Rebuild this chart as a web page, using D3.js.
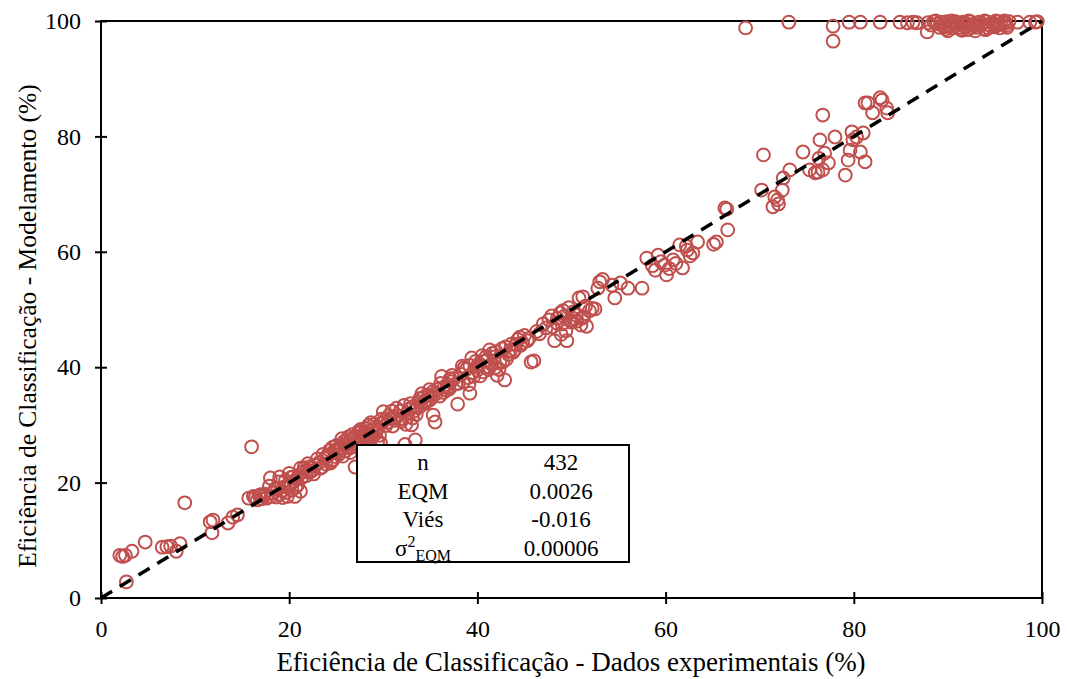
<!DOCTYPE html>
<html>
<head>
<meta charset="utf-8">
<script src="https://cdn.jsdelivr.net/npm/d3@7"></script>
<style>
  body { margin: 0; background: #fff; }
  svg text { font-family: "Liberation Serif", "Times New Roman", serif; fill: #000; }
</style>
</head>
<body>
<div id="chart"></div>
<script>
// eficiencia experimental (x) vs modelada (y), em %
var faixaBaixa = [
  [2.7,2.8],[2.0,7.4],[2.3,7.2],[2.6,7.4],[3.3,8.1],[4.7,9.7],[6.5,8.8],[7.0,8.9],[7.4,9.0],
  [8.0,8.1],[8.4,9.4],[8.9,16.5],[11.6,13.2],[11.9,13.5],[11.8,11.3],[13.5,13.0],[14.0,14.0],
  [14.5,14.4],[16.0,26.2],[15.7,17.3],[16.2,17.6],[16.4,17.4],[16.8,17.8],[17.1,17.2],[17.4,18.0],
  [17.9,19.4],[18.3,18.2],[18.6,17.5],[19.0,18.0],[19.2,18.6],[19.5,19.3],[19.8,17.6],[20.1,19.9],
  [20.3,18.7],[20.5,20.2],[18.0,20.8],[19.0,21.0],[20.0,21.6],[20.8,20.6],[21.0,21.3],[21.2,22.5],
  [21.5,21.9],[21.9,22.1],[22.3,22.8],[22.6,21.5],[20.6,17.6],[21.2,18.5],[17.6,17.3],[18.8,19.0],
  [19.6,20.4],[20.9,19.6],[16.6,17.0],[22.0,23.3],[17.0,17.9],[18.5,18.9],[19.3,17.4],[20.4,21.0],
  [21.6,22.6],[22.4,22.0],[18.1,17.6],[19.9,19.1],[21.3,20.8],[18.9,20.1],[20.2,20.9],[21.8,21.2],
  [17.3,17.7],[19.7,18.3],[22.1,21.8],[20.7,19.2]
];

var faixaMedia = [
  [22.8,23.0],[23.2,23.5],[23.5,22.7],[23.8,24.2],[24.2,24.8],[24.5,23.8],[24.8,25.5],[25.0,26.4],
  [25.3,24.9],[25.5,26.0],[25.8,27.1],[26.0,25.5],[26.2,26.8],[26.5,27.5],[26.8,26.2],[27.0,28.0],
  [27.3,27.3],[27.5,28.6],[27.8,27.0],[28.0,28.7],[28.2,29.4],[28.5,28.1],[28.8,29.0],[29.0,30.1],
  [29.2,28.5],[29.5,29.6],[29.8,31.0],[30.0,32.3],[30.3,29.9],[30.5,30.5],[27.0,22.7],[25.4,26.0],
  [24.0,24.6],[26.5,25.2],[28.0,27.8],[28.6,26.5],[29.4,27.0],[29.7,26.9],[25.1,25.3],[26.3,27.9],
  [27.6,29.2],[28.9,28.0],[29.9,30.4],[24.6,26.1],[23.9,23.2],[23.0,24.1],[24.3,25.6],[25.7,24.6],
  [26.7,28.3],[27.2,26.6],[28.4,29.9],[29.3,29.2],[25.9,26.5],[27.9,28.1],[26.1,27.4],[24.9,24.5],
  [23.3,22.5],[24.7,24.0],[25.6,27.6],[26.4,26.0],[27.4,28.9],[28.1,28.3],[28.7,30.4],[29.6,28.2],
  [24.4,23.4],[25.2,25.9],[26.9,27.7],[27.7,26.4],[28.3,27.2],[29.1,29.6],[23.6,24.9],[26.6,26.7],
  [30.8,31.2],[31.0,29.8],[31.2,30.8],[31.5,31.6],[31.8,32.4],[32.0,31.0],[32.3,26.6],[32.5,32.0],
  [32.8,32.8],[33.0,30.0],[33.2,33.2],[33.4,27.4],[33.5,31.8],[33.8,34.0],[34.0,33.3],[34.3,34.8],
  [34.5,33.8],[34.8,35.2],[35.0,34.4],[35.3,35.8],[35.5,30.5],[35.3,31.7],[35.8,36.2],[36.0,35.0],
  [36.2,38.4],[36.5,36.6],[36.8,37.0],[37.0,36.2],[37.2,37.5],[37.5,38.0],[37.9,33.6],[39.2,35.5],
  [31.4,32.9],[32.6,31.4],[33.9,34.6],[34.7,34.2],[36.4,35.6],[37.7,37.1],[30.6,31.6],[31.9,30.6],
  [32.2,33.4],[33.6,33.0],[34.1,35.4],[35.1,35.0],[36.7,36.0],[37.3,38.6],[30.2,30.9],[31.1,31.3],
  [30.9,32.4],[31.7,31.0],[32.9,33.7],[33.3,32.4],[34.4,34.1],[35.6,35.4],[36.1,37.2],[36.9,36.5],
  [37.1,38.0],[34.9,36.1],[33.1,31.2],[32.4,30.1],
  [38.2,38.8],[38.5,37.5],[38.8,39.6],[39.0,38.2],[39.2,40.3],[39.5,39.0],[39.8,41.0],[40.0,39.5],
  [40.2,40.6],[40.5,42.0],[40.8,40.0],[41.0,41.2],[41.3,43.0],[41.5,40.5],[41.8,41.8],[42.0,42.7],
  [42.1,38.6],[42.4,41.0],[42.7,40.9],[42.9,37.8],[43.0,43.5],[43.3,42.2],[43.6,44.0],[44.0,43.1],
  [44.3,44.8],[44.6,43.8],[45.0,45.5],[45.3,44.6],[45.7,40.9],[46.0,41.1],[46.3,46.2],[46.6,45.8],
  [47.0,47.5],[39.6,38.4],[40.6,39.2],[41.9,39.9],[43.8,42.6],[44.8,44.2],[38.6,39.9],[40.9,41.8],
  [39.4,41.6],[40.3,38.5],[41.6,42.4],[42.3,39.6],[43.1,41.4],[38.0,37.2],[39.1,37.0],[44.1,44.0],
  [38.4,40.2],[39.9,40.1],[40.7,41.0],[41.2,39.6],[42.6,43.2],[43.5,42.9],[44.5,45.2],[45.5,45.0]
];

var faixaAlta = [
  [47.3,46.8],[47.6,48.2],[48.0,47.0],[48.2,44.6],[48.5,48.5],[48.8,49.4],[49.0,47.5],[49.2,48.8],
  [49.5,44.6],[49.7,50.3],[50.0,47.8],[50.3,48.4],[50.5,49.0],[50.8,52.0],[51.0,47.3],[51.3,48.7],
  [51.6,47.1],[51.9,49.8],[52.2,50.2],[51.1,48.5],[51.2,52.2],[49.4,46.3],[48.9,45.7],[47.9,48.9],
  [50.2,49.6],[52.5,50.1],[49.9,48.1],[48.4,47.7],[49.1,49.8],[50.6,48.0],[51.5,50.6],
  [53.0,54.8],[52.8,53.7],[54.3,54.2],[55.2,54.6],[54.6,52.0],[56.0,53.7],[57.5,53.7],[53.3,55.2],
  [58.0,58.9],[59.2,59.4],[58.9,56.8],[59.9,57.7],[60.1,56.0],[60.8,58.6],[61.8,57.2],[62.3,60.3],
  [62.9,59.8],[63.4,61.7],[61.5,61.2],[62.2,61.0],[65.1,61.3],[65.4,61.7],[66.5,67.4],[66.6,63.8],
  [59.5,58.3],[60.4,57.1],[61.1,58.0],[62.6,59.3],[58.6,57.6],
  [66.3,67.6],[70.4,76.8],[70.2,70.7],[71.6,69.5],[71.9,69.0],[71.4,67.8],[72.4,70.7],[72.5,72.8],
  [73.2,74.2],[74.6,77.3],[75.3,74.2],[75.9,73.7],[76.2,73.8],[76.7,74.2],[76.9,77.1],[77.3,75.4],
  [76.4,79.4],[76.7,83.7],[78.0,79.9],[79.1,73.3],[79.4,75.9],[79.6,77.6],[79.8,80.8],[79.9,79.4],
  [80.3,79.9],[80.7,77.3],[81.0,80.6],[81.2,75.6],[81.2,85.8],[81.5,85.8],[82.0,84.1],[82.8,86.7],
  [83.0,86.3],[83.6,84.1],[83.5,84.9],[72.0,68.3],[76.3,76.2]
];

var faixaTopo = [
  [68.5,98.8],[73.1,99.8],[77.8,99.1],[77.8,96.5],[79.5,99.8],[80.7,99.8],[82.8,99.8],[84.9,99.8],
  [85.7,99.7],[86.3,99.8],[86.7,99.7],[87.9,99.7],[87.8,98.1],[88.5,99.9],[88.9,99.5],[89.3,99.8],
  [89.6,99.0],[89.9,99.9],[90.2,99.4],[90.5,98.8],[90.8,99.9],[91.0,99.3],[91.3,98.6],[91.6,99.8],
  [91.9,99.1],[92.1,98.5],[92.4,99.9],[92.7,99.4],[93.0,98.9],[93.3,99.8],[93.5,99.2],[93.8,98.7],
  [94.1,99.9],[94.4,99.3],[94.7,99.7],[95.0,99.0],[95.3,99.9],[95.6,99.4],[95.9,99.8],[96.2,99.2],
  [96.5,99.9],[90.0,98.3],[91.5,98.4],[92.9,98.3],[94.0,98.5],[89.1,98.9],[95.5,98.8],[97.4,99.8],
  [98.7,99.8],[99.3,99.8],[99.5,99.9],[88.7,100],[90.4,100],[92.2,100],[93.9,100],[95.1,100],[96.0,100],
  [89.4,99.3],[90.7,99.6],[91.8,99.6],[92.5,98.9],[93.6,99.6],[94.9,99.4],[96.3,98.9],[90.1,99.1],
  [91.1,98.9],[92.0,99.5],[93.1,99.3],[94.3,98.8],[95.2,99.3],[96.1,99.6],[88.2,99.3],[89.8,98.6]
];

var ticksX = [0, 20, 40, 60, 80, 100];
var ticksY = [0, 20, 40, 60, 80, 100];

var tabelaRotulos = ["n", "EQM", "Viés", "σ2EQM"];
var tabelaValores = ["432", "0.0026", "-0.016", "0.00006"];

var largura = 1067, altura = 679;
var esq = 101, dir = 1042, topo = 21, base = 598;

var svg = d3.select("#chart").append("svg")
  .attr("width", largura).attr("height", altura);

var x = d3.scaleLinear().domain([0, 100]).range([esq, dir]);
var y = d3.scaleLinear().domain([0, 100]).range([base, topo]);

// moldura da area de plotagem
svg.append("rect")
  .attr("x", esq).attr("y", topo)
  .attr("width", dir - esq).attr("height", base - topo)
  .style("fill", "none").style("stroke", "#000").style("stroke-width", 2);

var pontos = faixaBaixa.concat(faixaMedia, faixaAlta, faixaTopo);

svg.append("g").selectAll("circle").data(pontos).enter().append("circle")
  .attr("cx", function(d) { return x(d[0]); })
  .attr("cy", function(d) { return y(d[1]); })
  .attr("r", 6.4)
  .style("fill", "none")
  .style("stroke", "#c0504d")
  .style("stroke-width", 2);

// linha 1:1
svg.append("line")
  .attr("x1", x(0)).attr("y1", y(0)).attr("x2", x(100)).attr("y2", y(100))
  .style("stroke", "#000").style("stroke-width", 3.5)
  .style("stroke-dasharray", "13,9");

// eixos com marcas cruzando a linha
var eixoX = svg.append("g").attr("transform", "translate(0," + base + ")")
  .call(d3.axisBottom(x).tickValues(ticksX).tickSize(6).tickPadding(16));
var eixoY = svg.append("g").attr("transform", "translate(" + esq + ",0)")
  .call(d3.axisLeft(y).tickValues(ticksY).tickSize(6).tickPadding(14));

[eixoX, eixoY].forEach(function(g) {
  g.select(".domain").remove();
  g.selectAll("line").style("stroke", "#000").style("stroke-width", 2);
  g.selectAll("text").style("font-size", "24px")
    .style("font-family", "'Liberation Serif', 'Times New Roman', serif");
});
eixoX.selectAll(".tick line").attr("y1", -6).attr("y2", 6);
eixoY.selectAll(".tick line").attr("x1", -6).attr("x2", 6);
svg.append("line").attr("x1", esq).attr("x2", dir).attr("y1", base).attr("y2", base)
  .style("stroke", "#000").style("stroke-width", 2);
svg.append("line").attr("x1", esq).attr("x2", esq).attr("y1", topo).attr("y2", base)
  .style("stroke", "#000").style("stroke-width", 2);

// titulos dos eixos
svg.append("text")
  .attr("x", 571).attr("y", 671)
  .attr("text-anchor", "middle").style("font-size", "27px")
  .text("Eficiência de Classificação - Dados experimentais (%)");
svg.append("text")
  .attr("transform", "translate(36,326) rotate(-90)")
  .attr("text-anchor", "middle").style("font-size", "25.5px")
  .text("Eficiência de Classificação - Modelamento (%)");

// tabela de estatisticas
var tab = svg.append("g");
tab.append("rect")
  .attr("x", 357).attr("y", 445).attr("width", 272).attr("height", 117)
  .style("fill", "#fff").style("stroke", "#000").style("stroke-width", 2);

tabelaRotulos.forEach(function(r, i) {
  var ty = 470 + i * 28.7;
  var t = tab.append("text").attr("x", 423).attr("y", ty)
    .attr("text-anchor", "middle").style("font-size", "23px");
  if (r === "σ2EQM") {
    t.append("tspan").text("σ");
    t.append("tspan").attr("dy", -9).style("font-size", "16px").text("2");
    t.append("tspan").attr("dy", 14).style("font-size", "16px").text("EQM");
  } else {
    t.text(r);
  }
  tab.append("text").attr("x", 561).attr("y", ty)
    .attr("text-anchor", "middle").style("font-size", "23px")
    .text(tabelaValores[i]);
});
</script>
</body>
</html>
